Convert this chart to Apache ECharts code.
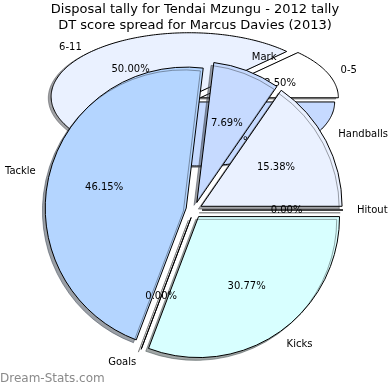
<!DOCTYPE html>
<html><head><meta charset="utf-8">
<script src="https://cdn.jsdelivr.net/npm/echarts@6/dist/echarts.min.js"></script>
<style>html,body{margin:0;padding:0;background:#fff}#c{width:390px;height:390px}</style>
</head><body><div id="c"></div>
<script>
// ---- data ----
const titleLines = ['Disposal tally for Tendai Mzungu - 2012 tally', 'DT score spread for Marcus Davies (2013)'];
const disposalCategories = ['Hitout', 'Handballs', 'Mark', 'Tackle', 'Goals', 'Kicks'];
const disposalValues = [0, 2, 1, 6, 0, 4];
const disposalColors = ['#ffffff', '#eaf1ff', '#c6daff', '#b4d5ff', '#ffffff', '#d8ffff'];
const scoreCategories = ['0-5', '6-11', '12-17'];
const scoreValues = [1, 4, 3];
const scoreColors = ['#ffffff', '#eaf1ff', '#c6daff'];
const watermark = 'Dream-Stats.com';

// ---- styling / layout ----
const FONT = '"DejaVu Sans", Verdana, sans-serif';
const FRONT = { cx: 194, cy: 210, r: 141, offset: 8 };
const BG = { cx: 194, cy: 99, rx: 138, ry: 64, explode: 0.05, start: 0 };

function shadowOf(hex) {
  const n = parseInt(hex.slice(1), 16);
  const r = (n >> 16) & 255, g = (n >> 8) & 255, b = n & 255;
  return 'rgba(' + Math.round(r * 0.3) + ',' + Math.round(g * 0.3) + ',' + Math.round(b * 0.3) + ',0.5)';
}

const scoreTotal = scoreValues.reduce((a, b) => a + b, 0);
const disposalTotal = disposalValues.reduce((a, b) => a + b, 0);

function ellipseWedge(cx, cy, rx, ry, a0, a1) {
  const pts = [[cx, cy]];
  const n = Math.max(2, Math.ceil(a1 - a0));
  for (let k = 0; k <= n; k++) {
    const t = (a0 + (a1 - a0) * k / n) * Math.PI / 180;
    pts.push([cx + rx * Math.cos(t), cy - ry * Math.sin(t)]);
  }
  return pts;
}

function renderScore(params, api) {
  const i = params.dataIndex;
  const v = api.value(0);
  let before = 0;
  for (let k = 0; k < i; k++) before += scoreValues[k];
  const a0 = BG.start + before / scoreTotal * 360;
  const a1 = a0 + v / scoreTotal * 360;
  const m = (a0 + a1) / 2 * Math.PI / 180;
  const ex = BG.cx + BG.explode * BG.rx * Math.cos(m);
  const ey = BG.cy - BG.explode * BG.ry * Math.sin(m);
  const pts = ellipseWedge(ex, ey, BG.rx, BG.ry, a0, a1);
  const lx = ex + 1.1 * BG.rx * Math.cos(m), ly = ey - 1.1 * BG.ry * Math.sin(m);
  const px = ex + 0.6 * BG.rx * Math.cos(m), py = ey - 0.6 * BG.ry * Math.sin(m);
  return {
    type: 'group',
    children: [
      { type: 'polygon', z2: 1, shape: { points: pts.map(p => [p[0] - 2.8, p[1] + 1.3]) },
        style: { fill: shadowOf(scoreColors[i]), stroke: shadowOf(scoreColors[i]), lineWidth: 1 } },
      { type: 'polygon', z2: 2, shape: { points: pts },
        style: { fill: scoreColors[i], stroke: '#000', lineWidth: 1 } },
      { type: 'text', z2: 10, style: { text: scoreCategories[i], x: lx, y: ly,
        align: Math.cos(m) < 0 ? 'right' : 'left', verticalAlign: 'middle', font: '10px ' + FONT, fill: '#000' } },
      { type: 'text', z2: 10, style: { text: (v / scoreTotal * 100).toFixed(2) + '%', x: px, y: py,
        align: 'center', verticalAlign: 'middle', font: '10px ' + FONT, fill: '#000' } }
    ]
  };
}

const chart = echarts.init(document.getElementById('c'), null, { renderer: 'canvas' });
chart.setOption({
  animation: false,
  backgroundColor: '#fff',
  title: {
    text: titleLines.join('\n'), left: 'center', top: 2, padding: 0,
    textStyle: { fontFamily: FONT, fontSize: 13, fontWeight: 'normal', color: '#000', lineHeight: 16 }
  },
  graphic: [{
    type: 'text', left: 0, top: 373,
    style: { text: watermark, font: '12px ' + FONT, fill: '#8a8a8a' }
  }],
  series: [
    {
      type: 'custom', coordinateSystem: 'none', z: 1, silent: true,
      data: scoreValues,
      renderItem: renderScore
    },
    {
      type: 'pie', z: 2, silent: true,
      center: [FRONT.cx, FRONT.cy], radius: FRONT.r,
      startAngle: 0, clockwise: false, minAngle: 0,
      selectedMode: 'multiple', selectedOffset: FRONT.offset,
      avoidLabelOverlap: false,
      data: disposalCategories.map((n, i) => ({
        name: n, value: disposalValues[i], selected: true,
        itemStyle: { color: disposalColors[i], shadowColor: shadowOf(disposalColors[i]) }
      })),
      itemStyle: { borderColor: '#000', borderWidth: 1, shadowOffsetX: -2.8, shadowOffsetY: 2.8, shadowBlur: 0 },
      label: { show: true, position: 'outside', formatter: '{b}', fontFamily: FONT, fontSize: 10,
        color: '#000', distanceToLabelLine: 0, overflow: 'none' },
      labelLine: { show: false, length: 14, length2: 0 },
      emphasis: { disabled: true }
    },
    {
      type: 'pie', z: 3, silent: true,
      center: [FRONT.cx, FRONT.cy], radius: FRONT.r * 1.2 - 6,
      startAngle: 0, clockwise: false, minAngle: 0,
      selectedMode: 'multiple', selectedOffset: FRONT.offset,
      avoidLabelOverlap: false,
      data: disposalCategories.map((n, i) => ({ name: n, value: disposalValues[i], selected: true })),
      itemStyle: { color: 'rgba(0,0,0,0)', borderWidth: 0 },
      label: { show: true, position: 'inside',
        formatter: p => (p.value / disposalTotal * 100).toFixed(2) + '%',
        fontFamily: FONT, fontSize: 10, color: '#000', overflow: 'none' },
      labelLine: { show: false },
      emphasis: { disabled: true }
    }
  ]
});
</script>
</body></html>
